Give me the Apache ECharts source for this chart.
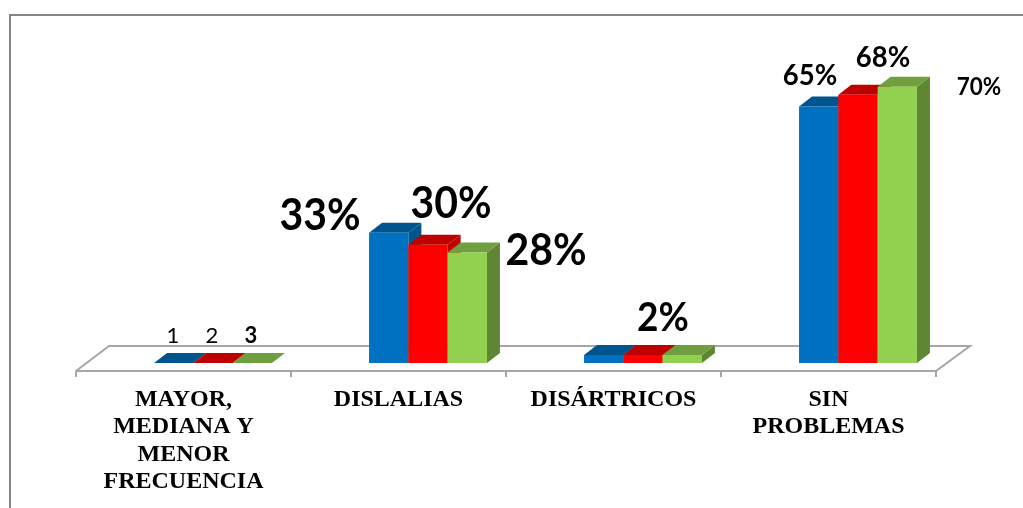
<!DOCTYPE html>
<html>
<head>
<meta charset="utf-8">
<style>html,body{margin:0;padding:0;background:#fff}#c{width:1023px;height:508px}</style>
<script src="https://cdn.jsdelivr.net/npm/echarts@6/dist/echarts.min.js"></script>
</head>
<body>
<div id="c"></div>
<script>
const categories = ['MAYOR,\nMEDIANA Y\nMENOR\nFRECUENCIA', 'DISLALIAS', 'DISÁRTRICOS', 'SIN\nPROBLEMAS'];
const series1 = [0, 33, 2, 65];
const series2 = [0, 30, 2, 68];
const series3 = [0, 28, 2, 70];
const seriesNames = ['1', '2', '3'];
const faces = [
  { front: '#0070c0', top: '#00558f', side: '#00558f' },
  { front: '#ff0000', top: '#bf0000', side: '#bf0000' },
  { front: '#92d050', top: '#6f9f3e', side: '#5f8733' }
];
const DEPTH_X = 13, DEPTH_Y = 10, GROUP_SHIFT = 29.5, BAR_RATIO = 0.1828;

function bar3d(order, colors) {
  return function (params, api) {
    const base = api.coord([api.value(0), 0]);
    const top = api.coord([api.value(0), api.value(1)]);
    const w = api.size([1, 0])[0] * BAR_RATIO;
    const x0 = base[0] + GROUP_SHIFT + (order - 1) * w - w / 2;
    const x1 = x0 + w, yb = base[1], yt = top[1];
    const poly = (pts, fill) => ({ type: 'polygon', shape: { points: pts }, style: { fill: fill } });
    return {
      type: 'group',
      children: [
        poly([[x1, yb], [x1 + DEPTH_X, yb - DEPTH_Y], [x1 + DEPTH_X, yt - DEPTH_Y], [x1, yt]], colors.side),
        poly([[x0, yt], [x0 + DEPTH_X, yt - DEPTH_Y], [x1 + DEPTH_X, yt - DEPTH_Y], [x1, yt]], colors.top),
        poly([[x0, yb], [x1, yb], [x1, yt], [x0, yt]], colors.front)
      ]
    };
  };
}
const allValues = [series1, series2, series3];
const chart = echarts.init(document.getElementById('c'), null, { renderer: 'canvas' });

const pctText = (t, x, y, size) => ({
  type: 'text', x: x, y: y, z: 10, scaleY: 1.06,
  style: { text: t, fill: '#000', font: 'bold ' + size + 'px Lato', textAlign: 'center', textVerticalAlign: 'middle' }
});
const nameText = (t, x, weight) => ({
  type: 'text', x: x, y: 336, z: 10,
  style: { text: t, fill: '#000', font: weight + ' 22px Lato', textAlign: 'center', textVerticalAlign: 'middle' }
});

chart.setOption({
  animation: false,
  backgroundColor: '#fff',
  grid: { left: 76, width: 860, top: 47.4, height: 315.6, containLabel: false },
  xAxis: {
    type: 'category',
    data: categories,
    offset: 8,
    axisLine: { onZero: false, lineStyle: { color: '#a6a6a6', width: 2 } },
    axisTick: { show: true, length: 6, lineStyle: { color: '#a6a6a6', width: 2 } },
    axisLabel: {
      interval: 0, margin: 15, color: '#000',
      fontFamily: 'Liberation Serif', fontWeight: 'bold', fontSize: 24, lineHeight: 27.5
    }
  },
  yAxis: { type: 'value', min: 0, max: 80, show: false },
  series: allValues.map((vals, s) => ({
    type: 'custom',
    name: seriesNames[s],
    silent: true,
    clip: false,
    encode: { x: 0, y: 1 },
    data: vals.map((v, i) => [i, v]),
    renderItem: bar3d(s, faces[s])
  })),
  graphic: [
    { type: 'polyline', z: 0, shape: { points: [[76, 371], [109, 346], [970, 346], [936, 371]] },
      style: { stroke: '#a6a6a6', lineWidth: 2, fill: null } },
    { type: 'polyline', z: 0, shape: { points: [[10, 508], [10, 15], [1023, 15]] },
      style: { stroke: '#858585', lineWidth: 2, fill: null } },
    nameText(seriesNames[0], 173, 'normal'),
    nameText(seriesNames[1], 212, 'normal'),
    nameText(seriesNames[2], 251, 'bold'),
    pctText('33%', 320, 216, 41),
    pctText('30%', 451, 204, 41),
    pctText('28%', 546, 251, 41),
    pctText('2%', 663, 318, 37),
    pctText('65%', 810, 76, 27.5),
    pctText('68%', 883, 58, 27.5),
    pctText('70%', 979, 87, 22.5)
  ]
});
</script>
</body>
</html>
